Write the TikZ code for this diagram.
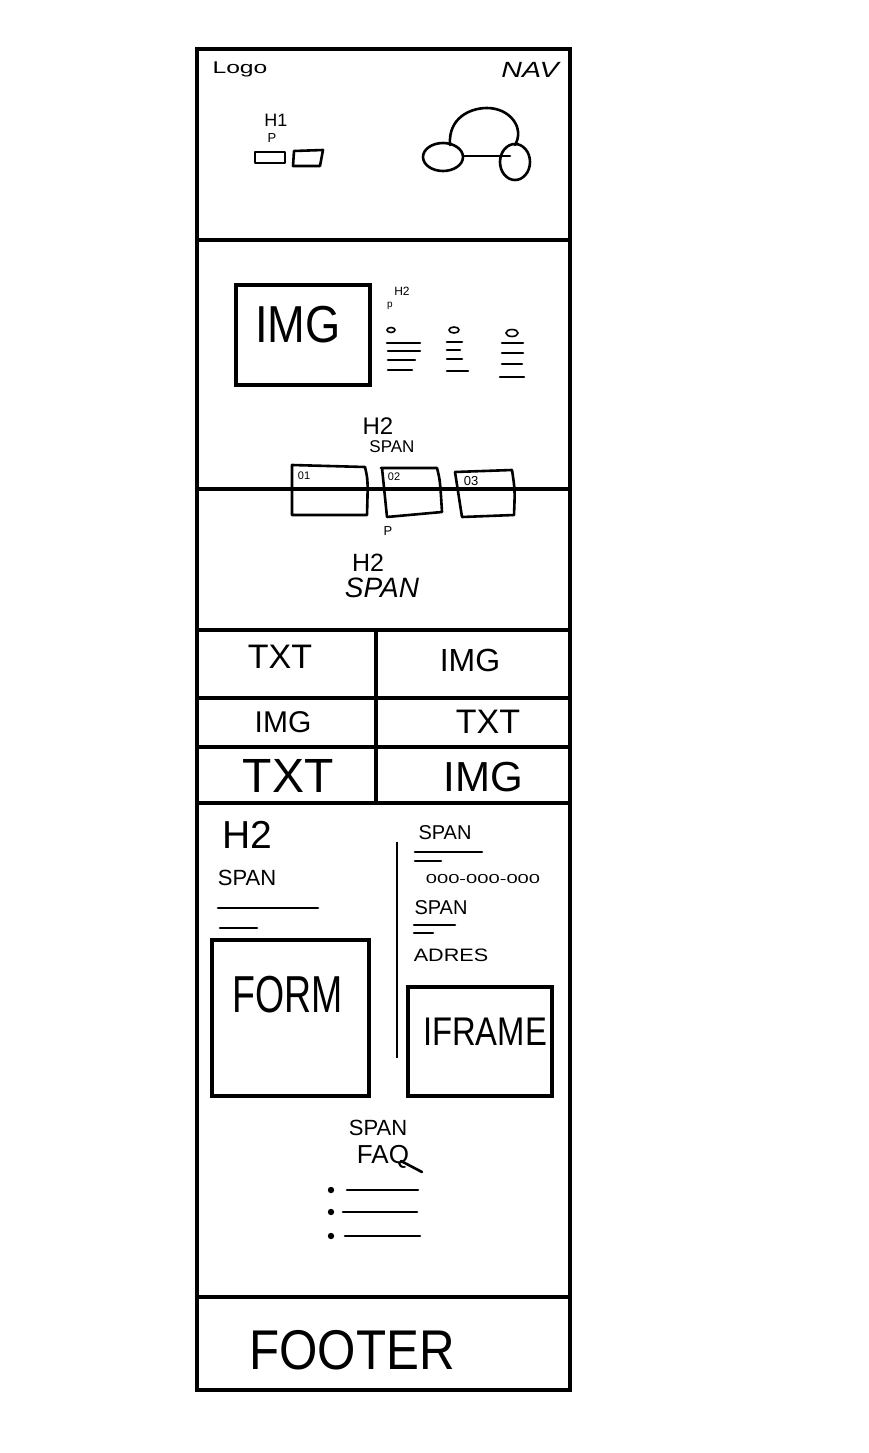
\documentclass[tikz,border=0pt]{standalone}
\usepackage{fontspec}
\setsansfont{Liberation Sans}
\renewcommand{\familydefault}{\sfdefault}
\newcommand{\fs}[1]{\fontsize{#1}{#1}\selectfont}
\begin{document}
\begin{tikzpicture}[x=1pt,y=-1pt,
  frame/.style={line width=4pt, line join=miter},
  pen/.style={line width=2.6pt, line cap=round, line join=round},
  thin/.style={line width=1.6pt, line cap=round},
  lbl/.style={inner sep=0pt, anchor=center}]
\useasboundingbox (0,0) rectangle (868,1453);

% page outline and section dividers
\draw[frame] (197,49) rectangle (570,1390);
\foreach \yy in {240,489,630,698,747,803,1297}
  \draw[frame] (197,\yy) -- (570,\yy);
\draw[frame] (376,630) -- (376,803);

% ---------- header ----------
\node[lbl, xscale=1.45] (logo) at (240,69) {\fs{17}Logo};
\node[lbl, xscale=1.3] (nav) at (530,70) {\fs{22}\itshape NAV};
\node[lbl] (h1) at (276,120) {\fs{18}H1};
\node[lbl] (hp) at (272,138) {\fs{13}P};
\draw[pen] (255,152) rectangle (285,163);
\draw[pen] (294,151) -- (323,150) -- (320,166) -- (293,166) -- cycle;
% hero illustration
\draw[pen] (443,157) ellipse [x radius=20, y radius=14];
\draw[pen] (515,162) ellipse [x radius=15, y radius=18];
\draw[pen] (450,145) .. controls (448,118) and (470,108) .. (487,108)
  .. controls (510,108) and (525,128) .. (515,145);
\draw[pen] (463,156) -- (510,156);

% ---------- about ----------
\draw[frame] (236,285) rectangle (370,385);
\node[lbl, xscale=0.87] (img1) at (298,325) {\fs{52}IMG};
\node[lbl] (h2a) at (402,291) {\fs{12}H2};
\node[lbl] (pa) at (390,306) {\fs{10}p};
% three feature columns
\draw[thin] (391,330) ellipse [x radius=4, y radius=2.5];
\draw[pen] (387,343) -- (420,343);
\draw[pen] (388,351) -- (420,351);
\draw[pen] (388,360) -- (415,360);
\draw[pen] (388,370) -- (412,370);
\draw[thin] (454,330) ellipse [x radius=5, y radius=3];
\draw[pen] (447,342) -- (462,342);
\draw[pen] (447,350) -- (460,350);
\draw[pen] (447,359) -- (462,359);
\draw[pen] (447,371) -- (468,371);
\draw[thin] (512,333) ellipse [x radius=6, y radius=3.5];
\draw[pen] (502,343) -- (523,343);
\draw[pen] (502,353) -- (523,353);
\draw[pen] (502,364) -- (522,364);
\draw[pen] (500,377) -- (524,377);

\node[lbl] (h2b) at (378,426) {\fs{24}H2};
\node[lbl] (spanb) at (392,447) {\fs{17}SPAN};
% numbered cards
\draw[pen] (292,465) -- (365,467) .. controls (368,480) .. (367,515) -- (292,515) -- cycle;
\draw[pen] (381,468) -- (437,468) .. controls (440,480) .. (442,512) -- (387,517) -- (382,468);
\draw[pen] (455,472) -- (512,470) .. controls (515,490) .. (514,515) -- (462,517) -- (455,472);
\node[lbl] (n1) at (304,476) {\fs{11}01};
\node[lbl] (n2) at (394,477) {\fs{11}02};
\node[lbl] (n3) at (471,481) {\fs{13}03};
\node[lbl] (pb) at (388,531) {\fs{13}P};

% ---------- section title ----------
\node[lbl] (h2c) at (368,563) {\fs{25}H2};
\node[lbl] (spanc) at (382,588) {\fs{28}\itshape SPAN};

% ---------- alternating rows ----------
\node[lbl] (t1) at (280,657) {\fs{34}TXT};
\node[lbl] (i1) at (470,660) {\fs{32}IMG};
\node[lbl] (i2) at (283,722) {\fs{30}IMG};
\node[lbl] (t2) at (488,722) {\fs{34}TXT};
\node[lbl] (t3) at (288,776) {\fs{48}TXT};
\node[lbl] (i3) at (483,777) {\fs{42}IMG};

% ---------- contact ----------
\node[lbl] (h2d) at (247,835) {\fs{39}H2};
\node[lbl] (spand) at (247,878) {\fs{22}SPAN};
\draw[pen] (218,908) -- (318,908);
\draw[pen] (220,928) -- (257,928);
\draw[frame] (212,940) rectangle (369,1096);
\node[lbl, xscale=0.72] (form) at (288,995) {\fs{52}FORM};
\draw[line width=1.2pt] (397,842) -- (397,1058);
\node[lbl] (spane) at (445,833) {\fs{20}SPAN};
\draw[pen] (415,852) -- (482,852);
\draw[pen] (415,861) -- (441,861);
\node[lbl, xscale=1.55] (phone) at (483,879) {\fs{13}000-000-000};
\node[lbl] (spanf) at (441,908) {\fs{20}SPAN};
\draw[pen] (414,925) -- (455,925);
\draw[pen] (414,933) -- (433,933);
\node[lbl, xscale=1.2] (adres) at (451,955) {\fs{18}ADRES};
\draw[frame] (408,987) rectangle (552,1096);
\node[lbl, xscale=0.82] (iframe) at (485,1032) {\fs{40}IFRAME};

% ---------- faq ----------
\node[lbl] (spang) at (378,1128) {\fs{22}SPAN};
\node[lbl, anchor=north] (faq) at (383,1145) {\fs{26}FAQ};
\draw[pen] (401,1161) -- (422,1172);
\foreach \yy/\xa/\xb in {1190/347/418, 1212/343/417, 1236/345/420}{
  \fill (331,\yy) circle (3.2);
  \draw[pen] (\xa,\yy) -- (\xb,\yy);
}

% ---------- footer ----------
\node[lbl, xscale=0.88] (footer) at (352,1350) {\fs{56}FOOTER};
\end{tikzpicture}
\end{document}
